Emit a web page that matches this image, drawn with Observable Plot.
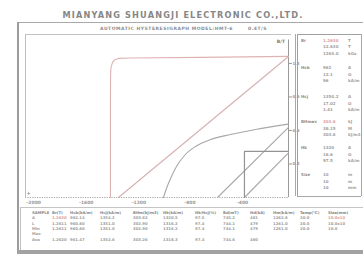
<!DOCTYPE html>
<html><head><meta charset="utf-8">
<script src="https://cdn.jsdelivr.net/npm/d3@7"></script>
<script src="https://cdn.jsdelivr.net/npm/@observablehq/plot@0.6"></script>
<style>
html,body{margin:0;padding:0;background:#fff;width:363px;height:259px;overflow:hidden;font-family:"DejaVu Sans",sans-serif;}
#wrap{position:relative;width:363px;height:259px;}
.ln{position:absolute;}
.t{position:absolute;white-space:nowrap;color:#8c8c8c;font-weight:bold;line-height:1;transform:translateY(-50%);}
</style></head><body><div id="wrap"></div>
<script>
// ---- chart data (H in kA/m, B in T) ----
const jCurveH = [-1354,-1354,-1354,-1353,-1350,-1338,-1323,-1293,-1202,-669,0];
const jCurveB = [0,0.42,0.87,1.09,1.164,1.209,1.231,1.245,1.248,1.254,1.263];
const bLineH = [-1293,0];
const bLineB = [0,1.262];
const grayCurveH = [-951,-928,-897,-852,-791,-707,-593,-441,-251,0];
const grayCurveB = [0,0.081,0.170,0.278,0.376,0.457,0.519,0.564,0.609,0.657];
const lineAH = [-540,0];
const lineAB = [0,0.627];
const lineBH = [-335,0];
const lineBB = [0,0.40];
const boxH = [-335,-335,0];
const boxB = [0,0.412,0.412];
const xTicks = [-2000,-1600,-1200,-800,-400];
const yTicks = [0.3,0.6,0.9,1.2];

// ---- texts ----
const titleText = "MIANYANG SHUANGJI ELECTRONIC CO.,LTD.";
const subtitleText = "AUTOMATIC HYSTERESIGRAPH MODEL:HMT-6";
const subtitleRight = "0.4T/S";
const yAxisLabel = "B/T";
const panelLabels = ["Br","Hcb","Hcj","BHmax","Hk","Size"];
const panelValues = [
  ["1.2630","12.630","1263.0"],
  ["962","12.1","96"],
  ["1354.2","17.02","1.41"],
  ["303.6","38.15","303.6"],
  ["1320","16.6","97.5"],
  ["10","10","10"]
];
const panelUnits = [
  ["T","T","kGs"],
  ["A","O","kA/m"],
  ["A","O","kA/m"],
  ["kJ","M","kJ/m3"],
  ["A","O","kA/m"],
  ["m","m","mm"]
];
const tableHeaders = ["SAMPLE","Br(T)","Hcb(kA/m)","Hcj(kA/m)","BHm(kJ/m3)","Hk(kA/m)","Hk/Hcj(%)","Bd(mT)","Hd(kA)","Hm(kA/m)","Temp(℃)","Size(mm)"];
const tableRows = [
  ["A","1.2630","962.14","1354.2","303.62","1320.5","97.5","745.2","481","1262.8","20.0","10.0x10"],
  ["L","1.2611","960.80","1351.0","302.90","1316.2","97.4","744.1","479","1261.0","20.0","10.0x10"],
  ["Min","1.2611","960.80","1351.0","302.90","1316.2","97.4","744.1","479","1261.0","20.0","10.0"],
  ["Max","","","","","","","","","","",""],
  ["Ave","1.2620","961.47","1352.6","303.26","1318.3","97.4","744.6","480","","",""]
];

const zip = (xs, ys) => xs.map((x, i) => ({H: x, B: ys[i]}));

const chart = Plot.plot({
  width: 363, height: 259,
  marginLeft: 25, marginRight: 75, marginTop: 35, marginBottom: 62,
  x: {domain: [-2000, 0], label: null},
  y: {domain: [0, 1.45], label: null},
  style: {background: "transparent", color: "#9a9a9a", fontFamily: "DejaVu Sans", fontWeight: "bold"},
  marks: [
    Plot.ruleY([0], {stroke: "#a8a8a8", strokeDasharray: "1.2,1.2"}),
    Plot.ruleX([0], {y1: 0, y2: 1.41, stroke: "#9a9a9a"}),
    Plot.axisX({ticks: xTicks, tickSize: 0, tickPadding: 3, textAnchor: "start", dx: 1, fontSize: 4.5, label: null, tickFormat: d => d.toFixed(0)}),
    Plot.axisY({anchor: "right", ticks: yTicks, tickSize: 3, tickPadding: 1, fontSize: 4, label: null, tickFormat: d => d.toFixed(1)}),
    Plot.line(zip(jCurveH, jCurveB), {x: "H", y: "B", stroke: "#e0b3b3", strokeWidth: 1.1}),
    Plot.line(zip(bLineH, bLineB), {x: "H", y: "B", stroke: "#d6b0b0", strokeWidth: 1.1}),
    Plot.line(zip(grayCurveH, grayCurveB), {x: "H", y: "B", stroke: "#a8a8a8", strokeWidth: 1.1, curve: "monotone-x"}),
    Plot.line(zip(lineAH, lineAB), {x: "H", y: "B", stroke: "#a8a8a8", strokeWidth: 1.1}),
    Plot.line(zip(lineBH, lineBB), {x: "H", y: "B", stroke: "#a8a8a8", strokeWidth: 1.1}),
    Plot.line(zip(boxH, boxB), {x: "H", y: "B", stroke: "#939393", strokeWidth: 1.2})
  ]
});
chart.style.position = "absolute";
chart.style.left = "0px";
chart.style.top = "0px";
const wrap = document.getElementById("wrap");
wrap.appendChild(chart);

function ln(x, y, w, h, c) {
  const d = document.createElement("div");
  d.className = "ln";
  Object.assign(d.style, {left: x + "px", top: y + "px", width: w + "px", height: h + "px", background: c});
  wrap.appendChild(d);
}
function tx(x, y, s, size, color, opts = {}) {
  const d = document.createElement("div");
  d.className = "t";
  d.textContent = s;
  d.style.left = x + "px";
  d.style.top = y + "px";
  d.style.fontSize = size + "px";
  if (color) d.style.color = color;
  if (opts.mid) d.style.transform = "translate(-50%,-50%)";
  if (opts.end) d.style.transform = "translate(-100%,-50%)";
  wrap.appendChild(d);
  if (opts.fit) {
    const w0 = d.getBoundingClientRect().width;
    const n = s.length;
    d.style.letterSpacing = ((opts.fit - w0) / n) + "px";
  }
  return d;
}

// frames
ln(17, 21.5, 346, 1.5, "#a9a9a9");
ln(16.5, 21.5, 2, 232, "#9c9c9c");
ln(17, 250, 346, 3.5, "#a2a2a2");
ln(25, 34, 266, 1, "#c2c2c2");
ln(25, 34, 1, 164, "#bdbdbd");
ln(295, 34, 1, 162, "#a8a8a8");
ln(297, 34, 1, 162, "#a0a0a0");
ln(297, 34, 64, 1, "#a0a0a0");
ln(360.5, 34, 1, 162, "#a8a8a8");
ln(297, 195.5, 64, 1, "#a8a8a8");
ln(20, 207, 343, 1, "#c4c4c4");
ln(20, 207, 1, 43, "#c0c0c0");

// titles
tx(183, 14.5, titleText, 8.2, "#878787", {mid: true, fit: 241});
tx(100, 29.3, subtitleText, 4.5, "#8e8e8e", {fit: 133});
tx(248, 29.3, subtitleRight, 4.5, "#8e8e8e", {fit: 19});
tx(285, 42, yAxisLabel, 4.5, "#7a7a7a", {end: true});
tx(26.5, 193, "+", 5, "#8a8a8a");

// side panel
const groupY = [40.5, 68, 97, 122, 148, 175];
panelLabels.forEach((lab, g) => {
  tx(301, groupY[g], lab, 4, "#8c8c8c");
  panelValues[g].forEach((v, r) => {
    const red = (r === 0 && (g === 0 || g === 3));
    tx(323, groupY[g] + r * 6.7, v, 4, red ? "#dc9e9e" : "#a0a0a0");
    tx(348, groupY[g] + r * 6.7, panelUnits[g][r], 4, "#a0a0a0");
  });
});

// table
const colX = [32, 52, 70, 100, 133, 163, 195, 223, 250, 273, 300, 328];
const rowY = [218.3, 224, 229, 234.3, 240];
tableHeaders.forEach((h, i) => tx(colX[i], 213.3, h, 3.8, "#858585"));
tableRows.forEach((row, r) => row.forEach((v, i) => {
  if (!v) return;
  const red = r === 0 && (i === 1 || i === 11);
  tx(colX[i], rowY[r], v, 3.8, red ? "#dc9e9e" : "#a0a0a0");
}));
</script>
</body></html>
